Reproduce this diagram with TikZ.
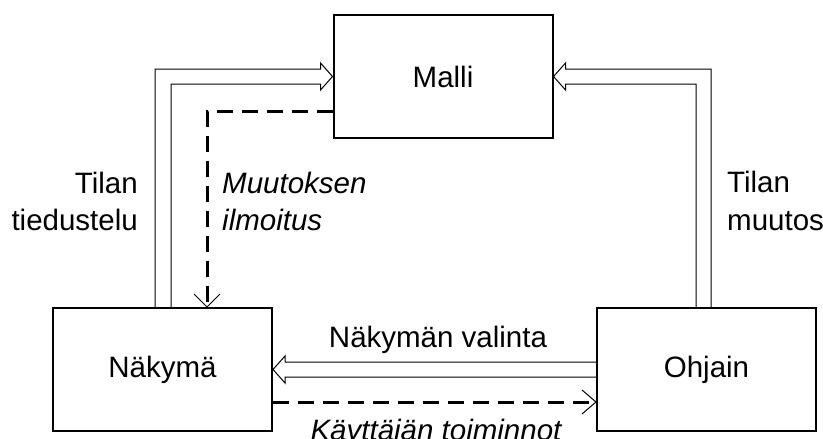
\documentclass[tikz,border=0pt]{standalone}
\usepackage{fontspec}
\setmainfont{Liberation Sans}
\usetikzlibrary{calc}

\tikzset{
  block/.style={draw, line width=2pt, minimum width=219pt, minimum height=123pt,
    inner sep=0pt, font=\fontsize{29.5}{37}\selectfont},
  lbl/.style={inner sep=0pt, font=\fontsize{29.5}{37}\selectfont},
  ilbl/.style={lbl, font=\fontsize{29.5}{37}\selectfont\itshape},
  dbl/.style={line width=1pt, line join=miter},
  dsh/.style={line width=3pt, dash pattern=on 16pt off 9pt},
  barb/.style={line width=1pt},
}

\begin{document}
\begin{tikzpicture}[x=1pt, y=-1pt]
  \fill[white] (0,0) rectangle (823,439);
  \useasboundingbox (0,0) rectangle (823,439);

  % the three components
  \node[block] (model) at (443,76.5) {Malli};
  \node[block] (view)  at (162.5,369.5) {Näkymä};
  \node[block] (ctrl)  at (706.5,369.5) {Ohjain};

  % view queries the model state (hollow double arrow)
  \draw[dbl] ($(view.north west)+(103,0)$) |- ($(model.west)+(-12,-7.5)$)
    -- ++(0,-6) -- (model.west) -- ++(-12,13.5) -- ++(0,-6)
    -| ($(view.north west)+(119,0)$);

  % controller changes the model state
  \draw[dbl] ($(ctrl.north west)+(115,0)$) |- ($(model.east)+(12,-7.5)$)
    -- ++(0,-6) -- (model.east) -- ++(12,13.5) -- ++(0,-6)
    -| ($(ctrl.north west)+(100,0)$);

  % controller selects the view
  \draw[dbl] ($(ctrl.west)+(0,-7.5)$) -- ($(view.east)+(12,-7.5)$)
    -- ++(0,-6) -- (view.east) -- ++(12,13.5) -- ++(0,-6)
    -- ($(ctrl.west)+(0,7.5)$);

  % change notification from the model to the view
  \coordinate (nTip) at ($(view.north west)+(155,0)$);
  \draw[dsh] ($(model.west)+(0,34.5)$) -| (nTip);
  \draw[barb] ($(nTip)+(-13,-13)$) -- (nTip) -- ++(13,-13);

  % user actions from the view to the controller
  \coordinate (aTip) at ($(ctrl.west)+(0,32.5)$);
  \draw[dsh] ($(view.east)+(0,32.5)$) -- (aTip);
  \draw[barb] ($(aTip)+(-14,-12)$) -- (aTip) -- ++(-14,12);

  % labels
  \node[lbl, anchor=base east] (q1) at (138,193) {Tilan};
  \node[lbl, anchor=base east] (q2) at (138,230) {tiedustelu};
  \node[ilbl, anchor=base west] (n1) at (222,193) {Muutoksen};
  \node[ilbl, anchor=base west] (n2) at (222,230) {ilmoitus};
  \node[lbl, anchor=base west] (c1) at (727,192) {Tilan};
  \node[lbl, anchor=base west] (c2) at (727,230) {muutos};
  \node[lbl, anchor=base] (sel) at (438,347) {Näkymän valinta};
  \node[ilbl, anchor=base] (act) at (436,440) {Käyttäjän toiminnot};
\end{tikzpicture}
\end{document}
